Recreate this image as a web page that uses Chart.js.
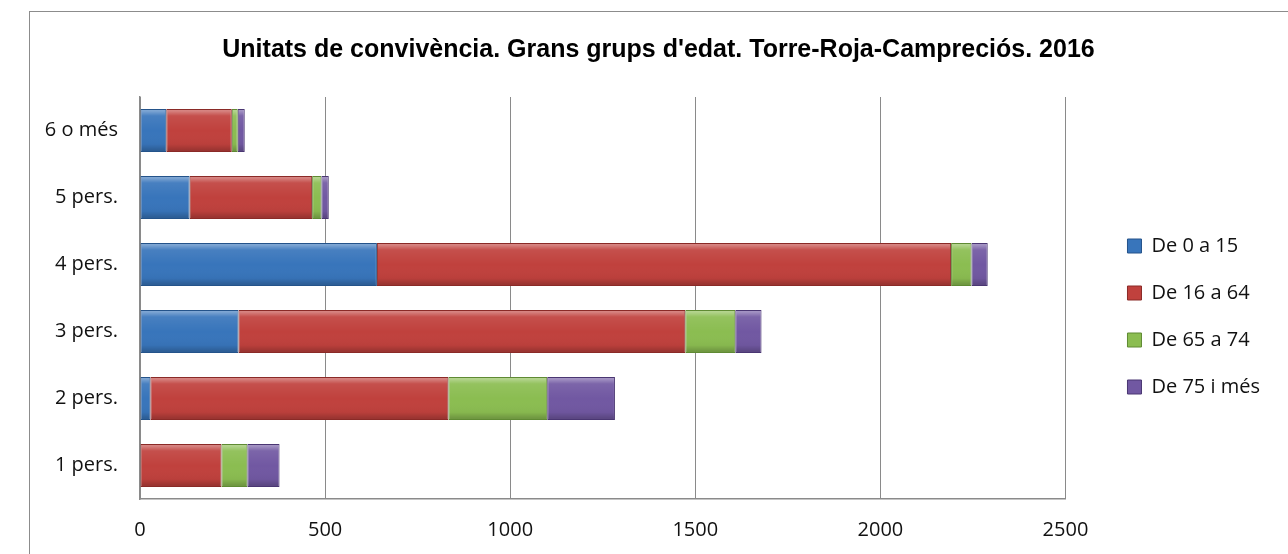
<!DOCTYPE html>
<html>
<head>
<meta charset="utf-8">
<script src="https://cdn.jsdelivr.net/npm/chart.js@4/dist/chart.umd.min.js"></script>
<style>
  html, body { margin: 0; padding: 0; background: #fff; overflow: hidden; }
  body { width: 1288px; height: 554px; position: relative; }
  #frame {
    position: absolute; left: 29px; top: 11px; width: 1270px; height: 560px;
    border: 1.5px solid #8c8c8c; box-sizing: border-box;
  }
  #wrap { position: absolute; left: 30px; top: 11px; width: 1258px; height: 543px; }
</style>
</head>
<body>
<div id="frame"></div>
<div id="wrap"><canvas id="chart"></canvas></div>
<script>
// Data (bottom category first, as in the original)
const categories = ['1 pers.', '2 pers.', '3 pers.', '4 pers.', '5 pers.', '6 o més'];
const seriesNames = ['De 0 a 15', 'De 16 a 64', 'De 65 a 74', 'De 75 i més'];
const age0to15 = [0, 28, 266, 640, 134, 71];
const age16to64 = [220, 805, 1207, 1551, 331, 177];
const age65to74 = [70, 267, 135, 55, 25, 16];
const age75plus = [87, 183, 71, 44, 20, 19];
const xTicks = [0, 500, 1000, 1500, 2000, 2500];

const fills = ['#3875bb', '#c0413d', '#8bbd51', '#7158a2'];
const edges = ['#24538a', '#8a2a27', '#5f8a33', '#4a3672'];

const series = [age0to15, age16to64, age65to74, age75plus];

// shifts legend / title into the places they have in the original
const nudgeBoxes = {
    id: 'nudgeBoxes',
    afterLayout(chart) {
        const lg = chart.legend;
        lg.left += 35; lg.right += 35;
        lg.top += 34; lg.bottom += 34;
        const t = chart.titleBlock;
        t.left += 26; t.right += 26;
    }
};

// bevel-ish shading on each bar segment
const bevel = {
    id: 'bevel',
    afterDatasetsDraw(chart) {
        const c = chart.ctx;
        chart.data.datasets.forEach((ds, i) => {
            chart.getDatasetMeta(i).data.forEach(bar => {
                const x0 = Math.min(bar.x, bar.base), x1 = Math.max(bar.x, bar.base);
                const w = x1 - x0;
                if (w < 1) return;
                const top = bar.y - bar.height / 2, h = bar.height;
                const g = c.createLinearGradient(0, top, 0, top + h);
                g.addColorStop(0, 'rgba(255,255,255,0.45)');
                g.addColorStop(0.16, 'rgba(255,255,255,0.08)');
                g.addColorStop(0.5, 'rgba(255,255,255,0)');
                g.addColorStop(0.82, 'rgba(0,0,0,0.03)');
                g.addColorStop(1, 'rgba(0,0,0,0.25)');
                c.save();
                c.fillStyle = g;
                c.fillRect(x0 + 1, top + 1, w - 2, h - 2);
                c.restore();
            });
        });
    }
};

const ctx = document.getElementById('chart').getContext('2d');

new Chart(ctx, {
    type: 'bar',
    data: {
        labels: categories,
        datasets: series.map((vals, i) => ({
            label: seriesNames[i],
            data: vals,
            backgroundColor: fills[i],
            borderColor: edges[i],
            borderWidth: 1,
            borderSkipped: false,
            categoryPercentage: 1,
            barPercentage: 0.64
        }))
    },
    options: {
        indexAxis: 'y',
        responsive: true,
        maintainAspectRatio: false,
        animation: false,
        layout: { padding: { left: 0, right: 53, top: 0, bottom: 0 } },
        scales: {
            x: {
                stacked: true,
                min: 0,
                max: 2500,
                afterBuildTicks: (axis) => { axis.ticks = xTicks.map(v => ({ value: v })); },
                afterFit: (axis) => { axis.height = 55; },
                grid: { color: '#8a8a8a', lineWidth: 1, drawTicks: false },
                border: { color: '#8a8a8a', width: 1.5 },
                ticks: {
                    padding: 19,
                    color: '#111',
                    font: { family: "'Open Sans'", size: 20 },
                    callback: (v) => String(v)
                }
            },
            y: {
                stacked: true,
                reverse: true,
                afterFit: (axis) => { axis.width = 110; },
                grid: { display: false, drawTicks: false },
                border: { color: '#8a8a8a', width: 1.5 },
                ticks: {
                    padding: 22,
                    color: '#111',
                    font: { family: "'Open Sans'", size: 20 }
                }
            }
        },
        plugins: {
            title: {
                display: true,
                text: "Unitats de convivència. Grans grups d'edat. Torre-Roja-Campreciós. 2016",
                color: '#000',
                font: { family: "'Liberation Sans'", size: 25, weight: 'bold' },
                padding: { top: 24, bottom: 32 }
            },
            legend: {
                position: 'right',
                labels: {
                    boxWidth: 14,
                    boxHeight: 14,
                    padding: 27,
                    color: '#111',
                    font: { family: "'Open Sans'", size: 20 }
                }
            },
            tooltip: { enabled: false }
        }
    },
    plugins: [nudgeBoxes, bevel]
});
</script>
</body>
</html>
